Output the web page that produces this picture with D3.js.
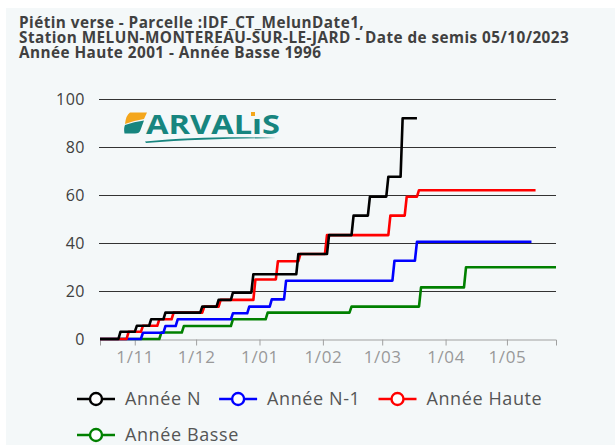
<!DOCTYPE html>
<html><head><meta charset="utf-8">
<script src="https://cdn.jsdelivr.net/npm/d3@7"></script>
<style>body{margin:0;background:#fff}svg{display:block}</style>
</head><body>
<svg id="chart" width="615" height="445"></svg>
<script>
// ---- data ----
const titleLines = [
  "Piétin verse - Parcelle :IDF_CT_MelunDate1,",
  "Station MELUN-MONTEREAU-SUR-LE-JARD - Date de semis 05/10/2023",
  "Année Haute 2001 - Année Basse 1996"
];
const xDomain = ["2023-10-15", "2024-05-25"];
const xTickDates = ["2023-11-01","2023-12-01","2024-01-01","2024-02-01","2024-03-01","2024-04-01","2024-05-01"];
const xTickLabels = ["1/11","1/12","1/01","1/02","1/03","1/04","1/05"];
const yTickValues = [0, 20, 40, 60, 80, 100];
const seriesNames = ["Année N", "Année N-1", "Année Haute", "Année Basse"];
const seriesColors = ["#000000", "#0000ff", "#ff0000", "#008000"];

const anneeNDates  = ["2023-10-25","2023-11-02","2023-11-09","2023-11-16","2023-12-04","2023-12-12","2023-12-19","2023-12-29","2024-01-20","2024-02-04","2024-02-16","2024-02-24","2024-03-04","2024-03-11"];
const anneeNValues = [3, 5.5, 8.2, 11, 13.5, 16.3, 19.3, 27, 35.4, 43.3, 51.4, 59.3, 67.6, 92];
const anneeNEnd = "2024-03-18";

const anneeN1Dates  = ["2023-11-05","2023-11-16","2023-11-22","2023-12-19","2023-12-27","2024-01-07","2024-01-14","2024-03-07","2024-03-18"];
const anneeN1Values = [2.6, 5.4, 8.2, 10.7, 13.5, 16.5, 24.3, 32.6, 40.5];
const anneeN1End = "2024-05-13";

const anneeHauteDates  = ["2023-10-29","2023-11-05","2023-11-13","2023-11-20","2023-12-05","2023-12-13","2023-12-30","2024-01-10","2024-01-21","2024-02-03","2024-03-05","2024-03-13","2024-03-19"];
const anneeHauteValues = [3, 5.5, 8.2, 11, 13.5, 16.3, 24.8, 32.4, 35.4, 43.3, 51.4, 59.3, 62];
const anneeHauteEnd = "2024-05-15";

const anneeBasseDates  = ["2023-11-14","2023-11-25","2023-12-19","2024-01-05","2024-02-15","2024-03-20","2024-04-11"];
const anneeBasseValues = [2.7, 5.4, 8.2, 11, 13.5, 21.5, 29.9];
const anneeBasseEnd = "2024-05-25";

// ---- chart ----
const parse = d3.timeParse("%Y-%m-%d");
const svg = d3.select("#chart");
const W = 615, H = 445;
const margin = {left: 100, right: 59, top: 99, bottom: 106};
const FONT = "'Open Sans', sans-serif";

svg.append("rect").attr("x", 6).attr("y", 8).attr("width", W - 6).attr("height", H - 8).attr("fill", "#f4f8f9");

const x = d3.scaleTime().domain(xDomain.map(parse)).range([margin.left, W - margin.right]);
const y = d3.scaleLinear().domain([0, 100]).range([H - margin.bottom, margin.top]);

// title
svg.append("g").selectAll("text").data(titleLines).join("text")
  .attr("x", 19).attr("y", (d, i) => 27.5 + i * 15.3)
  .attr("font-family", FONT).attr("font-weight", 700)
  .attr("font-size", "15.3px").attr("letter-spacing", "0.45px").attr("fill", "#404040")
  .text(d => d);

// gridlines
svg.append("g").selectAll("line").data(yTickValues.filter(v => v > 0)).join("line")
  .attr("x1", margin.left - 1).attr("x2", W - margin.right)
  .attr("y1", d => Math.round(y(d)) + 0.5).attr("y2", d => Math.round(y(d)) + 0.5)
  .attr("stroke", "#333").attr("stroke-width", 1);

// y axis labels
const yAxis = svg.append("g").attr("transform", `translate(${margin.left},0)`)
  .call(d3.axisLeft(y).tickValues(yTickValues).tickSize(0).tickPadding(15));
yAxis.select(".domain").remove();
yAxis.selectAll("text").attr("font-family", FONT).attr("font-size", "16px")
  .attr("letter-spacing", "0.5px").attr("fill", "#404040");

// x axis
const xAxis = svg.append("g").attr("transform", `translate(0,${Math.round(y(0)) + 0.5})`)
  .call(d3.axisBottom(x).tickValues(xTickDates.map(parse))
    .tickFormat((d, i) => xTickLabels[i]).tickSizeOuter(0).tickSize(6).tickPadding(5));
xAxis.select(".domain").attr("stroke", "#a0a0a0");
xAxis.selectAll(".tick line").attr("stroke", "#a0a0a0");
xAxis.selectAll("text").attr("font-family", FONT).attr("font-size", "17px")
  .attr("letter-spacing", "0.6px").attr("fill", "#999");

// logo
const logo = svg.append("g");
logo.append("path").attr("d", "M130,112.5 L147,112.5 L144,119 Q134,120.5 125,124 Q126,115 130,112.5Z").attr("fill", "#f4a61c");
logo.append("path").attr("d", "M125,125 Q134,121.5 144,120.5 L140.5,130 Q139.5,133.5 135,133.5 L124.5,133.5 Q123.5,128 125,125Z").attr("fill", "#17857f");
logo.append("text").attr("x", 146).attr("y", 133.5)
  .attr("font-family", FONT).attr("font-weight", 700).attr("font-size", "27px")
  .attr("textLength", 134).attr("lengthAdjust", "spacingAndGlyphs")
  .attr("fill", "#17857f").text("ARVALıS");
logo.append("rect").attr("x", 251).attr("y", 112).attr("width", 4).attr("height", 4).attr("fill", "#f4a61c");
logo.append("path").attr("d", "M145,141.5 C190,137 240,136.5 276,138 C240,138.6 190,139.5 146,143 Z").attr("fill", "#17857f");

// series
function stepPoints(dates, values, end) {
  const pts = [[x.domain()[0], 0]];
  let prev = 0;
  dates.forEach((ds, i) => {
    const d = parse(ds);
    pts.push([d3.timeDay.offset(d, -1), prev]);
    pts.push([d, values[i]]);
    prev = values[i];
  });
  pts.push([parse(end), prev]);
  return pts;
}
const series = [
  stepPoints(anneeNDates, anneeNValues, anneeNEnd),
  stepPoints(anneeN1Dates, anneeN1Values, anneeN1End),
  stepPoints(anneeHauteDates, anneeHauteValues, anneeHauteEnd),
  stepPoints(anneeBasseDates, anneeBasseValues, anneeBasseEnd)
];
const line = d3.line().x(d => x(d[0])).y(d => y(d[1]));
const drawOrder = [3, 1, 2, 0];
svg.append("g").selectAll("path").data(drawOrder).join("path")
  .attr("d", i => line(series[i])).attr("fill", "none")
  .attr("stroke", i => seriesColors[i]).attr("stroke-width", 2.6)
  .attr("stroke-linejoin", "round");

// legend
const legend = svg.append("g");
let lx = 77, ly = 399;
seriesNames.forEach((name, i) => {
  const g = legend.append("g");
  const t = g.append("text").attr("x", 48).attr("y", 0).attr("dy", "0.35em")
    .attr("font-family", FONT).attr("font-size", "18px").attr("letter-spacing", "0.6px")
    .attr("fill", "#555").text(name);
  const w = 48 + t.node().getComputedTextLength();
  if (lx + w > W - 10) { lx = 77; ly += 36; }
  g.attr("transform", `translate(${lx},${ly})`);
  g.insert("line", "text").attr("x1", 0).attr("x2", 38).attr("y1", 0).attr("y2", 0)
    .attr("stroke", seriesColors[i]).attr("stroke-width", 2.6);
  g.insert("circle", "text").attr("cx", 19).attr("cy", 0).attr("r", 6)
    .attr("fill", "#fff").attr("stroke", seriesColors[i]).attr("stroke-width", 2.4);
  lx += w + 18;
});
</script>
</body></html>
